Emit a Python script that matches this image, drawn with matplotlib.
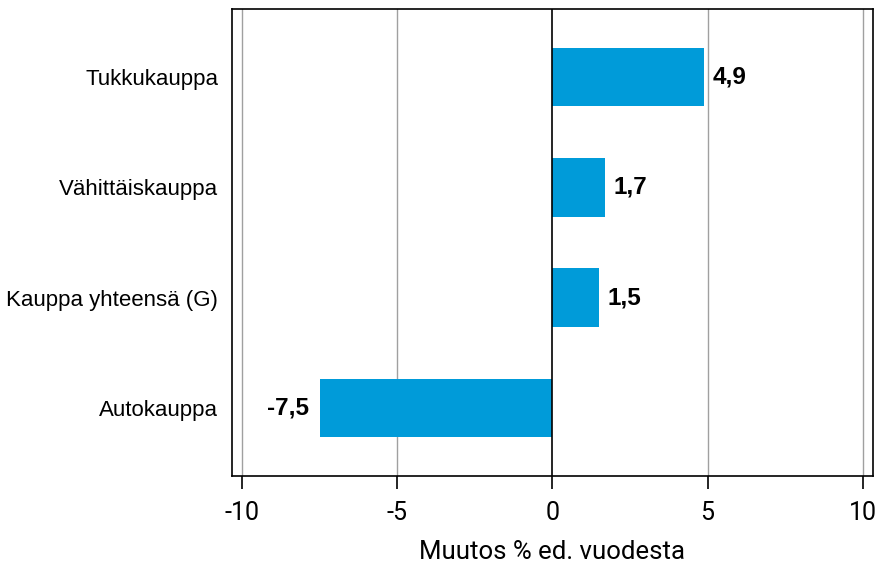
import matplotlib
matplotlib.use('Agg')
import matplotlib.pyplot as plt

categories = ['Autokauppa', 'Kauppa yhteensä (G)', 'Vähittäiskauppa', 'Tukkukauppa']
values = [-7.5, 1.5, 1.7, 4.9]
labels = ['-7,5', '1,5', '1,7', '4,9']
xticks = [-10, -5, 0, 5, 10]

plt.rcParams['font.family'] = ['Liberation Sans', 'DejaVu Sans']

fig = plt.figure(figsize=(8.77, 5.69), dpi=100)
ax = fig.add_axes([0.2645, 0.1634, 0.7309, 0.8208])

ypos = list(range(len(categories)))
ax.barh(ypos, values, height=0.53, color='#009bd9', zorder=3)

for y, v, lab in zip(ypos, values, labels):
    if v >= 0:
        ax.annotate(lab, (v, y), xytext=(6, 0), textcoords='offset points',
                    ha='left', va='center', fontsize=17.5, fontweight='bold')
    else:
        ax.annotate(lab, (v, y), xytext=(-8, 0), textcoords='offset points',
                    ha='right', va='center', fontsize=17.5, fontweight='bold')

ax.set_xlim(-10.33, 10.33)
ax.set_ylim(-0.62, 3.62)
ax.set_xticks(xticks)
ax.set_xticklabels([str(t) for t in xticks], fontsize=18, family=['Roboto', 'DejaVu Sans'])
ax.set_yticks(ypos)
ax.set_yticklabels(categories, fontsize=16)
ax.tick_params(axis='y', length=0, pad=10)
ax.tick_params(axis='x', length=9, width=1.2, pad=9)

for t in [-10, -5, 5, 10]:
    ax.axvline(t, color='#a0a0a0', linewidth=1, zorder=1)
ax.axvline(0, color='black', linewidth=1.2, zorder=4)

for s in ax.spines.values():
    s.set_linewidth(1.2)

ax.set_xlabel('Muutos % ed. vuodesta', fontsize=18.5, labelpad=11, family=['Roboto', 'DejaVu Sans'])

fig.savefig('out.png', dpi=100)
